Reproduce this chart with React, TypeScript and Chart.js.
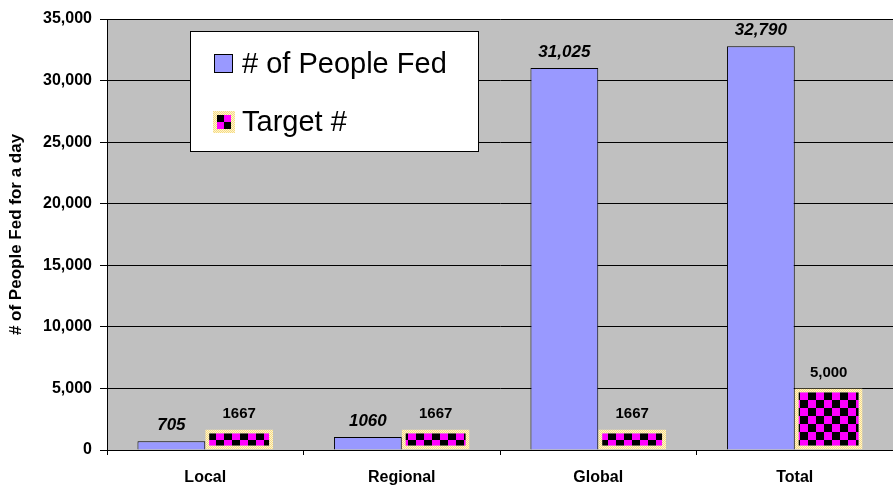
import React, { useEffect, useRef } from "react";
import { Chart, registerables } from "chart.js";

Chart.register(...registerables);

const categories = ["Local", "Regional", "Global", "Total"];
const peopleFed = [705, 1060, 31025, 32790];
const targets = [1667, 1667, 1667, 5000];
const peopleFedLabels = ["705", "1060", "31,025", "32,790"];
const targetLabels = ["1667", "1667", "1667", "5,000"];
const seriesNames = ["# of People Fed", "Target #"];
const yTicks = [0, 5000, 10000, 15000, 20000, 25000, 30000, 35000];
const yTitle = "# of People Fed for a day";

const FONT = "'Liberation Sans', Arial, sans-serif";

function makeChecker(): CanvasPattern | string {
  const c = document.createElement("canvas");
  c.width = 16;
  c.height = 16;
  const g = c.getContext("2d");
  if (!g) return "#ff00ff";
  g.fillStyle = "#ff00ff";
  g.fillRect(0, 0, 16, 16);
  g.fillStyle = "#000000";
  g.fillRect(0, 0, 8, 8);
  g.fillRect(8, 8, 8, 8);
  const ctx = document.createElement("canvas").getContext("2d")!;
  return ctx.createPattern(c, "repeat")!;
}

function makeDotted(): CanvasPattern | string {
  const c = document.createElement("canvas");
  c.width = 2;
  c.height = 2;
  const g = c.getContext("2d");
  if (!g) return "#f9e79f";
  g.fillStyle = "#fff5cc";
  g.fillRect(0, 0, 2, 2);
  g.fillStyle = "#f5da85";
  g.fillRect(0, 0, 1, 1);
  g.fillRect(1, 1, 1, 1);
  const ctx = document.createElement("canvas").getContext("2d")!;
  return ctx.createPattern(c, "repeat")!;
}

export default function App() {
  const ref = useRef<HTMLCanvasElement | null>(null);

  useEffect(() => {
    if (!ref.current) return;
    const checker = makeChecker();
    const dotted = makeDotted();

    const bgPlugin = {
      id: "plotBg",
      beforeDraw(chart: any) {
        const { ctx, chartArea } = chart;
        ctx.save();
        ctx.fillStyle = "#c0c0c0";
        ctx.fillRect(chartArea.left, chartArea.top, chartArea.right - chartArea.left, chartArea.bottom - chartArea.top);
        ctx.restore();
      },
    };

    const labelPlugin = {
      id: "valueLabels",
      afterDatasetsDraw(chart: any) {
        const { ctx } = chart;
        const texts = [peopleFedLabels, targetLabels];
        ctx.save();
        ctx.fillStyle = "#000";
        ctx.textAlign = "center";
        ctx.textBaseline = "alphabetic";
        chart.data.datasets.forEach((ds: any, di: number) => {
          const meta = chart.getDatasetMeta(di);
          ctx.font = di === 0 ? `italic bold 17px ${FONT}` : `bold 15px ${FONT}`;
          meta.data.forEach((el: any, i: number) => {
            ctx.fillText(texts[di][i], el.x, el.y - 11);
          });
        });
        ctx.restore();
      },
    };

    const legendPlugin = {
      id: "boxLegend",
      afterDraw(chart: any) {
        const { ctx } = chart;
        const x = 190, y = 31, w = 288, h = 120;
        ctx.save();
        ctx.fillStyle = "#fff";
        ctx.fillRect(x, y, w, h);
        ctx.strokeStyle = "#000";
        ctx.lineWidth = 1;
        ctx.strokeRect(x + 0.5, y + 0.5, w, h);
        ctx.fillStyle = "#9999ff";
        ctx.fillRect(214, 54, 19, 19);
        ctx.strokeStyle = "#000";
        ctx.strokeRect(214.5, 54.5, 18, 18);
        ctx.fillStyle = dotted;
        ctx.fillRect(213, 111, 22, 22);
        ctx.fillStyle = "#ff00ff";
        ctx.fillRect(217, 115, 14, 14);
        ctx.fillStyle = "#000";
        ctx.fillRect(217, 115, 7, 7);
        ctx.fillRect(224, 122, 7, 7);
        ctx.fillStyle = "#000";
        ctx.font = `29px ${FONT}`;
        ctx.textAlign = "left";
        ctx.textBaseline = "middle";
        ctx.fillText(chart.data.datasets[0].label, 242, 65);
        ctx.fillText(chart.data.datasets[1].label, 242, 123);
        ctx.restore();
      },
    };

    const chart = new Chart(ref.current, {
      type: "bar",
      data: {
        labels: categories,
        datasets: [
          {
            label: seriesNames[0],
            data: peopleFed,
            backgroundColor: "#9999ff",
            borderColor: "#000",
            borderWidth: 1,
            borderSkipped: "start",
            categoryPercentage: 0.69,
            barPercentage: 1.0,
          },
          {
            label: seriesNames[1],
            data: targets,
            backgroundColor: checker as any,
            borderColor: dotted as any,
            borderWidth: 4,
            borderSkipped: false,
            categoryPercentage: 0.69,
            barPercentage: 1.0,
          },
        ],
      },
      options: {
        responsive: true,
        maintainAspectRatio: false,
        animation: false,
        layout: { padding: { top: 19, right: 0, left: 0, bottom: 0 } },
        plugins: {
          legend: { display: false },
          tooltip: { enabled: false },
        },
        scales: {
          x: {
            grid: {
              offset: true,
              drawOnChartArea: false,
              color: "#000",
              tickLength: 5,
              tickColor: "#000",
            },
            border: { color: "#000", width: 1 },
            ticks: {
              color: "#000",
              font: { family: FONT, weight: "bold", size: 16 },
              padding: 13,
            },
            afterFit(scale: any) {
              scale.height = 38;
            },
          },
          y: {
            min: 0,
            max: 35000,
            afterBuildTicks(scale: any) {
              scale.ticks = yTicks.map((v) => ({ value: v }));
            },
            ticks: {
              color: "#000",
              font: { family: FONT, weight: "bold", size: 16 },
              padding: 8,
              callback: (v: any) => Number(v).toLocaleString("en-US"),
            },
            grid: {
              color: "#000",
              lineWidth: 1,
              tickLength: 7,
              tickColor: "#000",
            },
            border: { color: "#000", width: 1 },
            title: {
              display: true,
              text: yTitle,
              color: "#000",
              font: { family: FONT, weight: "bold", size: 17 },
              padding: { top: 6, bottom: 2 },
            },
            afterFit(scale: any) {
              scale.width = 107;
            },
          },
        },
      },
      plugins: [bgPlugin, labelPlugin, legendPlugin],
    });

    return () => chart.destroy();
  }, []);

  return (
    <div style={{ position: "fixed", left: 0, top: 0, width: 893, height: 488 }}>
      <canvas ref={ref} />
    </div>
  );
}
